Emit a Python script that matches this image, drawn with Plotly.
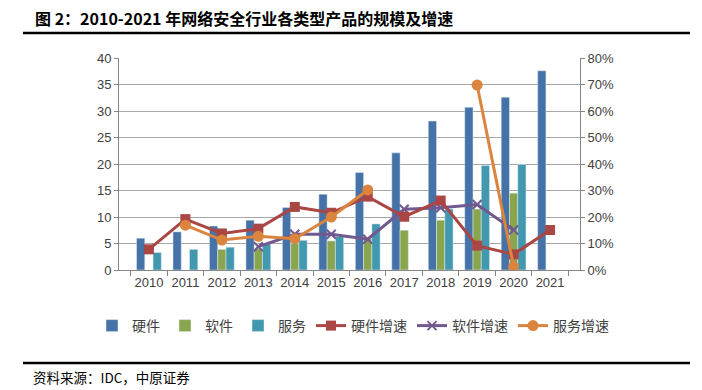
import plotly.graph_objects as go

years = ["2010", "2011", "2012", "2013", "2014", "2015", "2016", "2017", "2018", "2019", "2020", "2021"]
hardware = [6.0, 7.2, 8.3, 9.4, 11.8, 14.3, 18.4, 22.1, 28.1, 30.7, 32.6, 37.6]
software = [None, None, 3.9, 4.0, 5.0, 5.5, 5.9, 7.5, 9.4, 11.5, 14.5, None]
service = [3.3, 3.9, 4.3, 4.9, 5.6, 6.3, 8.7, None, 11.5, 19.7, 19.9, None]
hardware_growth = [0.078, 0.192, 0.138, 0.156, 0.238, 0.216, 0.277, 0.201, 0.262, 0.092, 0.059, 0.151]
software_growth = [None, None, None, 0.088, 0.135, 0.135, 0.116, 0.229, 0.235, 0.247, 0.151, None]
service_growth = [None, 0.169, 0.113, 0.127, 0.118, 0.200, 0.302, None, None, 0.698, 0.013, None]

L, R, T, B = 119, 580, 58, 270
W, H = 702, 390


def px(x):
    return (x - L) / (R - L)


def py(y):
    return (B - y) / (B - T)


fig = go.Figure()
fig.add_trace(go.Bar(x=years, y=hardware, name="硬件", marker_color="#4572A7", legendrank=1))
fig.add_trace(go.Bar(x=years, y=software, name="软件", marker_color="#89A54E", legendrank=2))
fig.add_trace(go.Bar(x=years, y=service, name="服务", marker_color="#4198AF", legendrank=3))
fig.add_trace(go.Scatter(x=years, y=software_growth, name="软件增速", yaxis="y2", mode="lines+markers",
                         line=dict(color="#71588F", width=3),
                         marker=dict(symbol="x-thin", size=9, line=dict(color="#71588F", width=2)),
                         legendrank=5))
fig.add_trace(go.Scatter(x=years, y=hardware_growth, name="硬件增速", yaxis="y2", mode="lines+markers",
                         line=dict(color="#AA4643", width=3),
                         marker=dict(symbol="square", size=10, color="#AA4643"),
                         legendrank=4))
fig.add_trace(go.Scatter(x=years, y=service_growth, name="服务增速", yaxis="y2", mode="lines+markers",
                         line=dict(color="#DB843D", width=3),
                         marker=dict(symbol="circle", size=11, color="#DB843D"),
                         legendrank=6))

axis_font = dict(family="Liberation Sans, Arial, sans-serif", size=13, color="#404040")

fig.update_layout(
    width=W, height=H,
    margin=dict(l=L, r=W - R, t=T, b=H - B, autoexpand=False),
    paper_bgcolor="white", plot_bgcolor="white",
    barmode="group", bargap=0.32, bargroupgap=0,
    showlegend=True,
    legend=dict(orientation="h", x=px(92), xanchor="left", y=py(326), yanchor="middle",
                font=dict(family="Noto Sans CJK SC", size=14, color="#404040"),
                itemwidth=30, traceorder="normal", bgcolor="rgba(0,0,0,0)"),
    xaxis=dict(type="category", showline=True, linecolor="#868686", linewidth=1,
               ticks="outside", tickson="boundaries", ticklen=5, tickcolor="#868686",
               tickfont=axis_font, tickangle=0, showgrid=False),
    yaxis=dict(range=[0, 40], dtick=5, showline=True, linecolor="#868686", linewidth=1,
               ticks="outside", ticklen=4, tickcolor="#868686",
               showgrid=True, gridcolor="#A6A6A6", gridwidth=1, tickfont=axis_font,
               zeroline=False),
    yaxis2=dict(range=[0, 0.8], dtick=0.1, tickformat=".0%", overlaying="y", side="right",
                showline=True, linecolor="#868686", linewidth=1,
                ticks="outside", ticklen=4, tickcolor="#868686",
                showgrid=False, tickfont=axis_font, zeroline=False),
)

fig.add_shape(type="line", xref="paper", yref="paper", x0=px(23), x1=px(690), y0=py(33), y1=py(33),
              line=dict(color="black", width=2.5))
fig.add_shape(type="line", xref="paper", yref="paper", x0=px(23), x1=px(690), y0=py(363), y1=py(363),
              line=dict(color="black", width=2.5))

fig.add_annotation(text="<b>图 2：2010-2021 年网络安全行业各类型产品的规模及增速</b>",
                   xref="paper", yref="paper", x=px(33), y=py(18), xanchor="left", yanchor="middle",
                   showarrow=False, font=dict(family="Noto Sans CJK SC", size=16, color="black"))
fig.add_annotation(text="资料来源：IDC，中原证券",
                   xref="paper", yref="paper", x=px(31), y=py(377), xanchor="left", yanchor="middle",
                   showarrow=False, font=dict(family="Noto Sans CJK SC", size=13.5, color="black"))

fig.write_html("out.html",
               config={"displayModeBar": False},
               post_script="document.body.style.margin='0';document.body.style.padding='0';"
                           "document.body.style.overflow='hidden';")
